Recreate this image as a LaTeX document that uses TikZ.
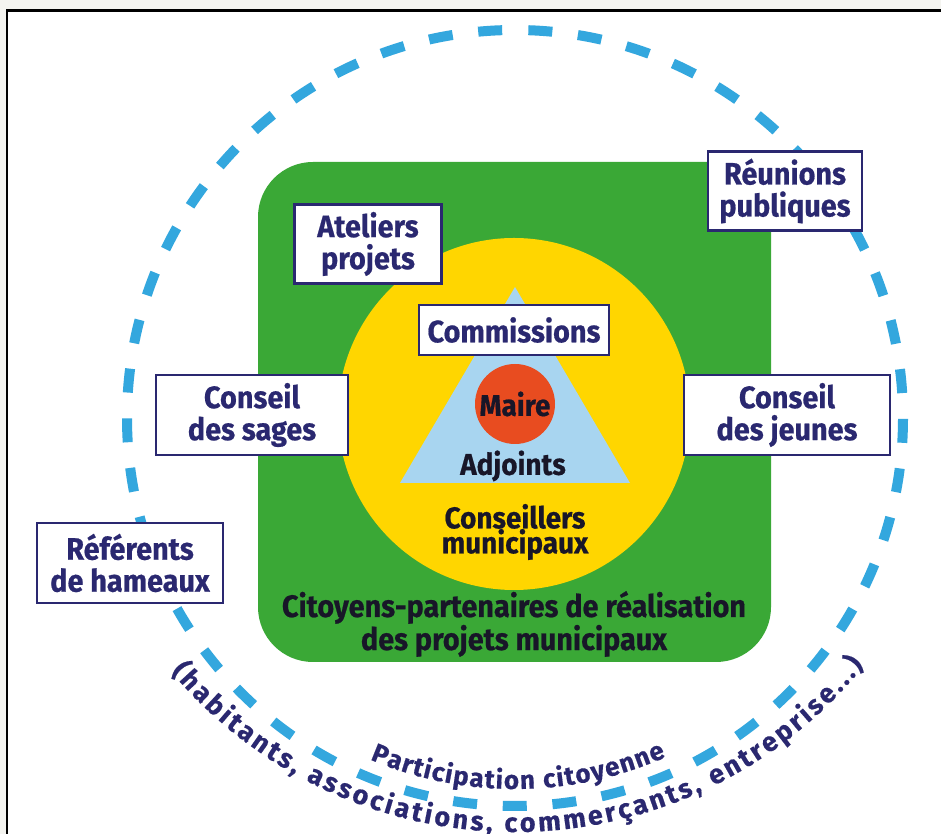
\documentclass[tikz,border=0pt]{standalone}
\usepackage{fontspec}
\setmainfont{Fira Sans}[FakeStretch=0.93,BoldFeatures={FakeBold=0.6}]
\newfontfamily\arcfont{Fira Sans}[BoldFeatures={FakeBold=0.5}]
\usepackage{tikz}
\usetikzlibrary{positioning,calc,decorations.text}
\definecolor{dashblue}{RGB}{51,167,222}
\definecolor{citgreen}{RGB}{58,168,54}
\definecolor{consyellow}{RGB}{255,214,0}
\definecolor{adjblue}{RGB}{168,213,240}
\definecolor{mairered}{RGB}{232,76,32}
\definecolor{boxnavy}{RGB}{42,40,112}
\definecolor{inktext}{RGB}{24,22,40}
\definecolor{margin}{RGB}{244,244,240}
\def\DashR{388}
\def\YellowR{176}
\def\OuterR{449}
\def\InnerR{371}

\tikzset{
  infobox/.style={draw=boxnavy,line width=2.6pt,fill=white,text=boxnavy,
    font=\bfseries\fontsize{31}{32}\selectfont,align=center,inner sep=0pt,
    minimum height=79},
  inktxt/.style={text=inktext,font=\bfseries\fontsize{30}{25}\selectfont,
    align=center,inner sep=0pt},
  arctext/.style={decorate,decoration={text along path,text color=boxnavy,
    text align=fit to path,text={#1}}}
}

\begin{document}
\begin{tikzpicture}[x=1pt,y=1pt]
  \useasboundingbox (0,0) rectangle (941,834);
  % page and frame
  \fill[margin] (0,0) rectangle (941,834);
  \fill[white] (7,0) rectangle (941,823.5);
  \draw[black,line width=2.5pt] (7,0) -- (7,823.5) -- (941,823.5);
  %
  \coordinate (c) at (515,416);
  \coordinate (oc) at (515,451);
  \coordinate (yc) at (514,420);
  \coordinate (apex) at (515,547);
  \coordinate (bl) at (400,351);
  \coordinate (br) at (630,351);
  % participation circle
  \draw[dashblue,line width=10pt,dash pattern=on 24pt off 25.75pt,dash phase=36.9pt]
    ($(c)+(90:\DashR)$) arc[start angle=90,end angle=450,radius=\DashR];
  % citoyens, conseillers, adjoints
  \fill[citgreen,rounded corners=55pt] (258,172) rectangle (771,672);
  \fill[consyellow] (yc) circle[radius=\YellowR];
  \fill[adjblue] (apex) -- (bl) -- (br) -- cycle;
  \node[circle,fill=mairered,minimum size=80,inner sep=0pt,text=inktext,
    font=\bfseries\fontsize{30}{30}\selectfont] (maire) at (515,430) {Maire};
  \node[inktxt] (adjoints) at (513,368) {Adjoints};
  \node[inktxt] (conseillers) at (515,302) {Conseillers\\municipaux};
  \node[inktxt,font=\bfseries\fontsize{31}{24}\selectfont] (citoyens) at (514,210)
    {Citoyens-partenaires de réalisation\\des projets municipaux};
  % boxes
  \node[infobox,minimum width=190,minimum height=50] (commissions) at (514,504) {Commissions};
  \node[infobox,minimum width=147] (ateliers) at (368,590) {Ateliers\\projets};
  \node[infobox,minimum width=154] (reunions) at (785,643) {Réunions\\publiques};
  \node[infobox,minimum width=192,minimum height=80] (sages) at (252,419) {Conseil\\des sages};
  \node[infobox,minimum width=206,minimum height=80] (jeunes) at (787,419) {Conseil\\des jeunes};
  \node[infobox,minimum width=186,minimum height=80] (referents) at (130,271) {Référents\\de hameaux};
  % texts round the circle
  \path[arctext={|\arcfont\bfseries\fontsize{26}{26}\selectfont|Participation citoyenne}]
    ($(c)+(-113:\InnerR)$) arc[start angle=-113,end angle=-66,radius=\InnerR];
  \path[arctext={|\arcfont\bfseries\fontsize{27}{27}\selectfont|(habitants, associations, commerçants, entreprise...)}]
    ($(oc)+(-140:\OuterR)$) arc[start angle=-140,end angle=-39,radius=\OuterR];
\end{tikzpicture}
\end{document}
